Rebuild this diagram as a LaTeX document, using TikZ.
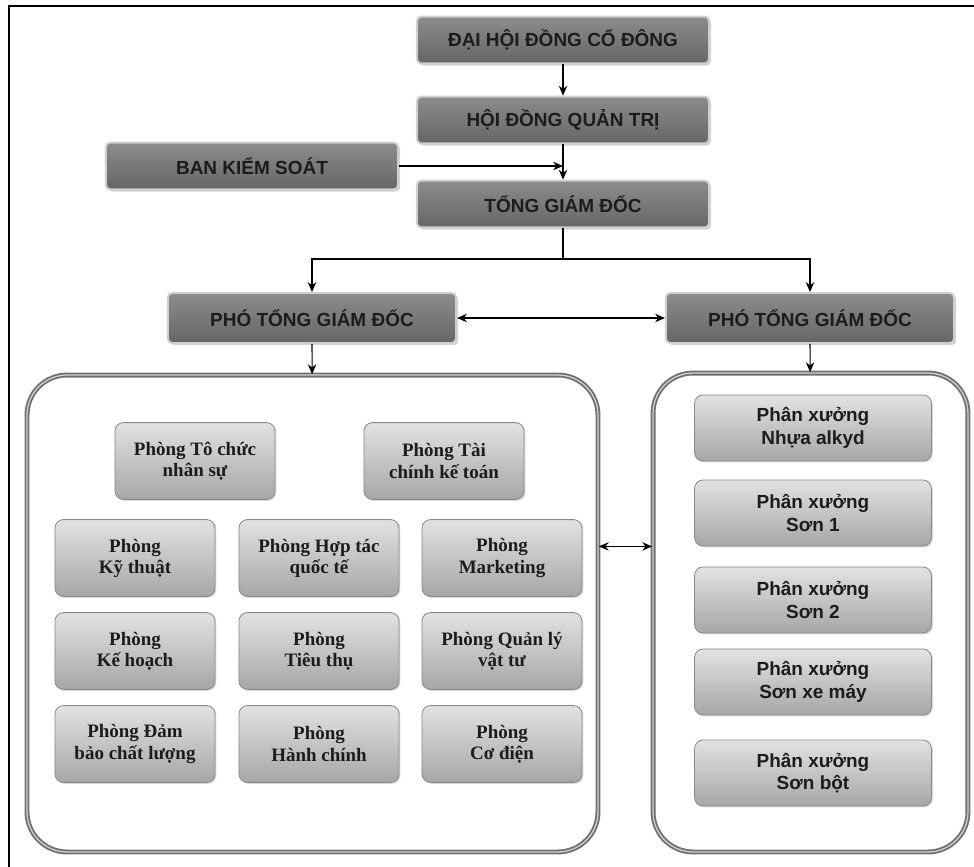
\documentclass[tikz,border=0pt]{standalone}
\usepackage{fontspec}
\setmainfont{Liberation Serif}
\setsansfont{Liberation Sans}
\usetikzlibrary{positioning,arrows.meta,shadows}

\definecolor{boxtop}{HTML}{8C8C8C}
\definecolor{boxbot}{HTML}{666666}
\definecolor{boxrim}{HTML}{CFCFCF}
\definecolor{subtop}{HTML}{E2E2E2}
\definecolor{subbot}{HTML}{A6A6A6}
\definecolor{subrim}{HTML}{8A8A8A}
\definecolor{inktext}{HTML}{1C1C1C}
\definecolor{panelrim}{HTML}{707070}

\begin{document}
\begin{tikzpicture}[
    x=0.025cm, y=-0.025cm,
    topbox/.style={rectangle, rounded corners=3pt, draw=boxrim, line width=1.4pt,
        top color=boxtop, bottom color=boxbot, text=inktext,
        minimum width=7.3cm, minimum height=1.17cm, inner sep=2pt,
        font=\sffamily\bfseries\fontsize{13.5}{16}\selectfont,
        drop shadow={opacity=0.35, shadow xshift=1.5pt, shadow yshift=-1.5pt}},
    subbox/.style={rectangle, rounded corners=6pt, draw=subrim, line width=0.6pt,
        top color=subtop, bottom color=subbot, text=inktext, align=center,
        minimum width=4cm, minimum height=1.92cm, inner sep=2pt,
        font=\rmfamily\bfseries\fontsize{13.5}{15}\selectfont,
        drop shadow={opacity=0.3, shadow xshift=1pt, shadow yshift=-1pt}},
    shopbox/.style={subbox, minimum width=5.92cm, minimum height=1.65cm,
        font=\sffamily\bfseries\fontsize{13.5}{16}\selectfont},
    panel/.style={rectangle, rounded corners=1cm, draw=panelrim, line width=1.3pt,
        double=boxrim, double distance=0.9pt, inner sep=0pt},
    arrow/.style={-{Stealth[length=7pt,width=6pt]}, line width=0.8pt, black}
]
\useasboundingbox (0,0) rectangle (974,867);

% outer frame
\draw[line width=0.9pt] (9,867) -- (9,6) -- (974,6);

% top levels
\node[topbox] (dhdcd) at (563,40) {ĐẠI HỘI ĐỒNG CỔ ĐÔNG};
\node[topbox] (hdqt) at (563,120) {HỘI ĐỒNG QUẢN TRỊ};
\node[topbox] (bks) at (252,166) {BAN KIỂM SOÁT};
\node[topbox] (tgd) at (563,204) {TỔNG GIÁM ĐỐC};

% deputies
\node[topbox, minimum width=7.2cm, minimum height=1.25cm] (ptgdA) at (312,318) {PHÓ TỔNG GIÁM ĐỐC};
\node[topbox, minimum width=7.2cm, minimum height=1.25cm] (ptgdB) at (810,318) {PHÓ TỔNG GIÁM ĐỐC};

% panels
\node[panel, minimum width=14.27cm, minimum height=11.92cm] (panelL) at (312.5,613.5) {};
\node[panel, minimum width=7.87cm, minimum height=11.97cm] (panelR) at (810.5,612.5) {};

% left panel: departments
\node[subbox] (tochuc) at (195,461) {Phòng Tô chức\\nhân sự};
\node[subbox] (taichinh) at (444,461) {Phòng Tài\\chính kế toán};
\node[subbox] (kythuat) at (135,558) {Phòng\\Kỹ thuật};
\node[subbox] (hoptac) at (319,558) {Phòng Hợp tác\\quốc tế};
\node[subbox] (marketing) at (502,558) {Phòng\\Marketing};
\node[subbox] (kehoach) at (135,651) {Phòng\\Kế hoạch};
\node[subbox] (tieuthu) at (319,651) {Phòng\\Tiêu thụ};
\node[subbox] (vattu) at (502,651) {Phòng Quản lý\\vật tư};
\node[subbox] (chatluong) at (135,744) {Phòng Đảm\\bảo chất lượng};
\node[subbox] (hanhchinh) at (319,744) {Phòng\\Hành chính};
\node[subbox] (codien) at (502,744) {Phòng\\Cơ điện};

% right panel: workshops
\node[shopbox] (shopA) at (813,428) {Phân xưởng\\Nhựa alkyd};
\node[shopbox] (shopB) at (813,513) {Phân xưởng\\Sơn 1};
\node[shopbox] (shopC) at (813,600) {Phân xưởng\\Sơn 2};
\node[shopbox] (shopD) at (813,682) {Phân xưởng\\Sơn xe máy};
\node[shopbox] (shopE) at (813,773) {Phân xưởng\\Sơn bột};

% arrows down the chain
\draw[arrow] (dhdcd) -- (hdqt);
\draw[arrow] (hdqt) -- (tgd);
\draw[arrow] (bks.east) -- (bks.east -| hdqt.south);

% split to the deputies
\coordinate (split) at (563,259);
\draw[line width=0.8pt] (tgd.south) -- (split);
\draw[arrow] (split) -| (ptgdA.north);
\draw[arrow] (split) -| (ptgdB.north);
\draw[arrow, {Stealth[length=7pt,width=6pt]}-{Stealth[length=7pt,width=6pt]}] (ptgdA) -- (ptgdB);

% deputies to panels
\draw[arrow] (ptgdA) -- (panelL);
\draw[arrow] (ptgdB) -- (panelR);
\draw[arrow, {Stealth[length=7pt,width=6pt]}-{Stealth[length=7pt,width=6pt]}]
    (panelL.east |- shopB.south) -- (panelR.west |- shopB.south);

\end{tikzpicture}
\end{document}
